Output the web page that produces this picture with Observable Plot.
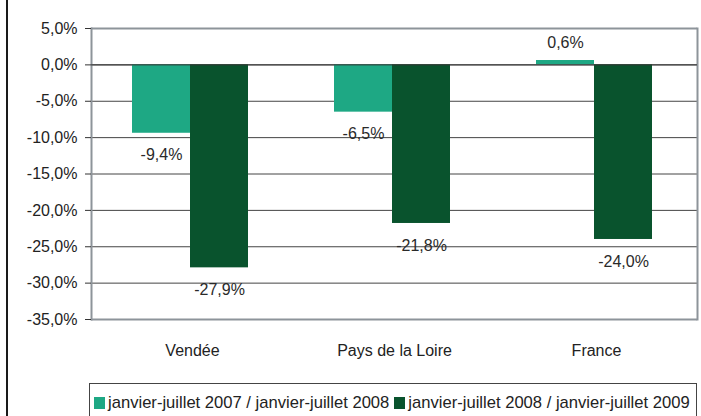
<!DOCTYPE html>
<html>
<head>
<meta charset="utf-8">
<script src="https://cdn.jsdelivr.net/npm/d3@7"></script>
<script src="https://cdn.jsdelivr.net/npm/@observablehq/plot@0.6"></script>
<style>
  html, body { margin: 0; padding: 0; background: #fff; overflow: hidden; }
  body { width: 701px; height: 416px; position: relative; font-family: "Liberation Sans", Arial, sans-serif; }
  #leftbar { position: absolute; left: 6px; top: 0; width: 2px; height: 416px; background: #1a1a1a; }
  #chart { position: absolute; left: 0; top: 0; }
  #legend { position: absolute; left: 89px; top: 383px; width: 608px; height: 40px; border: 1px solid #444; box-sizing: border-box;
            display: flex; align-items: flex-start; padding: 9px 0 0 4px; font-size: 16.6px; color: #222; white-space: nowrap; }
  #legend .item { display: flex; align-items: center; margin-right: 5px; }
  #legend .sw { width: 11px; height: 12px; margin-right: 3px; }
</style>
</head>
<body>
<div id="leftbar"></div>
<div id="chart"></div>
<div id="legend"></div>
<script>
const categories = ["Vendée", "Pays de la Loire", "France"];
const series = ["janvier-juillet 2007 / janvier-juillet 2008", "janvier-juillet 2008 / janvier-juillet 2009"];
const values2007_2008 = [-9.4, -6.5, 0.6];
const values2008_2009 = [-27.9, -21.8, -24.0];
const yTicks = [5, 0, -5, -10, -15, -20, -25, -30, -35];
const colors = ["#1ea884", "#09532d"];

const data = [];
categories.forEach((c, i) => {
  data.push({region: c, series: series[0], value: values2007_2008[i]});
  data.push({region: c, series: series[1], value: values2008_2009[i]});
});

const fmt = d => d.toFixed(1).replace(".", ",") + "%";
const frameGray = "#8d949a";

const chart = Plot.plot({
  width: 701,
  height: 375,
  marginLeft: 91,
  marginRight: 4,
  marginTop: 28,
  marginBottom: 56,
  style: {fontFamily: "'Liberation Sans', Arial, sans-serif", fontSize: "16px", color: "#222", background: "transparent"},
  fx: {domain: categories, padding: 0, label: null},
  x: {domain: series, paddingInner: 0, paddingOuter: 0.74, align: 0.48, axis: null},
  y: {domain: [-35, 5], label: null},
  color: {domain: series, range: colors},
  marks: [
    Plot.ruleY(yTicks.filter(d => d > -35 && d < 5), {stroke: "#444", strokeWidth: 1}),
    Plot.ruleY([5, -35], {stroke: frameGray, strokeWidth: 2}),
    Plot.frame({anchor: "left", facetAnchor: "left", stroke: frameGray, strokeWidth: 2}),
    Plot.frame({anchor: "right", facetAnchor: "right", stroke: frameGray, strokeWidth: 2}),
    Plot.barY(data, {fx: "region", x: "series", y: "value", fill: "series"}),
    Plot.ruleY([0], {stroke: "#333", strokeWidth: 1}),
    Plot.text(data.filter(d => d.value < 0), {fx: "region", x: "series", y: "value", text: d => fmt(d.value), dy: 22, fill: "#2a2a2a", fontSize: 16}),
    Plot.text(data.filter(d => d.value >= 0), {fx: "region", x: "series", y: "value", text: d => fmt(d.value), dy: -18, fill: "#2a2a2a", fontSize: 16}),
    Plot.axisY({ticks: yTicks, tickFormat: fmt, tickSize: 6, tickPadding: 8, label: null, fontSize: 16, stroke: "#333"}),
    Plot.axisFx({anchor: "bottom", tickSize: 0, tickPadding: 25, label: null, fontSize: 16})
  ]
});
document.getElementById("chart").appendChild(chart);

const legend = document.getElementById("legend");
series.forEach((s, i) => {
  const item = document.createElement("div");
  item.className = "item";
  const sw = document.createElement("div");
  sw.className = "sw";
  sw.style.background = colors[i];
  const t = document.createElement("span");
  t.textContent = s;
  item.appendChild(sw);
  item.appendChild(t);
  legend.appendChild(item);
});
</script>
</body>
</html>
